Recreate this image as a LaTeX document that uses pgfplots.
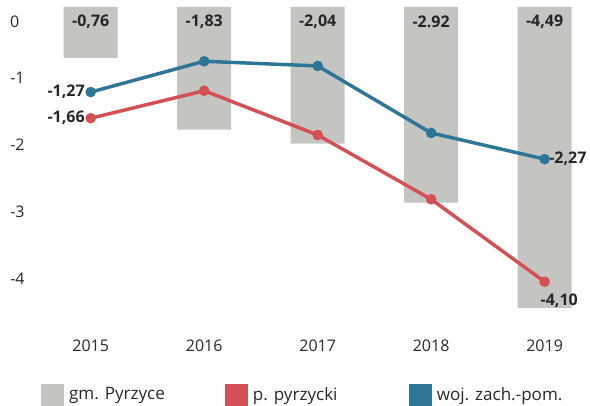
\documentclass[border=0pt]{standalone}
\usepackage{fontspec}
\setmainfont{Open Sans}
\usepackage{pgfplots}
\pgfplotsset{compat=1.18}
\definecolor{barg}{RGB}{196,196,193}
\definecolor{lred}{RGB}{210,80,86}
\definecolor{lblue}{RGB}{45,118,152}
\definecolor{txt}{RGB}{40,40,40}
\begin{document}
\begin{tikzpicture}
\useasboundingbox (-25.5pt,-60.75pt) rectangle (417pt,243.75pt);
\begin{axis}[
  scale only axis, width=417pt, height=243.75pt,
  xmin=-0.5, xmax=4.4, ymin=-4.746, ymax=0.1045,
  axis line style={draw=none}, tick style={draw=none},
  xtick={0,1,2,3,4}, xticklabels={2015,2016,2017,2018,2019},
  ytick={-4,-3,-2,-1}, yticklabels={-4,-3,-2,-1},
  ticklabel style={font=\fontsize{12}{14}\selectfont, text=txt},
  xticklabel style={yshift=-8pt},
  yticklabel style={xshift=-3.5pt, yshift=-3pt},
  clip=false,
  legend columns=3,
  legend style={draw=none, fill=none, inner sep=0pt, at={(0.0125,-0.215)}, anchor=west,
    font=\fontsize{12.8}{14}\selectfont, text=txt,
    /tikz/every odd column/.append style={column sep=2pt}},
  legend cell align=left,
]
\addplot[ybar, bar width=40.5pt, fill=barg, draw=none, forget plot] coordinates {(0,-0.76) (1,-1.83) (2,-2.04) (3,-2.92) (4,-4.49)};
\addplot[lred, line width=2.6pt, mark=*, mark size=2.6pt, forget plot] coordinates {(0,-1.66) (1,-1.25) (2,-1.91) (3,-2.87) (4,-4.10)};
\addplot[lblue, line width=2.6pt, mark=*, mark size=2.6pt, forget plot] coordinates {(0,-1.27) (1,-0.81) (2,-0.88) (3,-1.88) (4,-2.27)};
\addlegendimage{legend image code/.code={\fill[barg] (0pt,-8.25pt) rectangle (16.5pt,8.25pt);}}
\addlegendentry{\makebox[115pt][l]{gm. Pyrzyce}}
\addlegendimage{legend image code/.code={\fill[lred] (0pt,-8.25pt) rectangle (16.5pt,8.25pt);}}
\addlegendentry{\makebox[115pt][l]{p. pyrzycki}}
\addlegendimage{legend image code/.code={\fill[lblue] (0pt,-8.25pt) rectangle (16.5pt,8.25pt);}}
\addlegendentry{woj. zach.-pom.}
\node[anchor=east, font=\fontsize{12}{14}\selectfont, text=txt, xshift=-7.5pt] at (axis cs:-0.5,-0.224) {0};
\begin{scope}[every node/.style={font=\bfseries\fontsize{12}{14}\selectfont, text=black!85}]
\node at (axis cs:0,-0.224) {-0,76};
\node at (axis cs:1,-0.224) {-1,83};
\node at (axis cs:2,-0.224) {-2,04};
\node at (axis cs:3,-0.224) {-2.92};
\node at (axis cs:4,-0.224) {-4,49};
\node[anchor=east, xshift=-1pt] at (axis cs:0,-1.27) {-1,27};
\node[anchor=east, xshift=-1pt] at (axis cs:0,-1.66) {-1,66};
\node[anchor=west, xshift=0pt] at (axis cs:4,-2.27) {-2,27};
\node[xshift=11pt, yshift=-14pt] at (axis cs:4,-4.10) {-4,10};
\end{scope}
\end{axis}
\end{tikzpicture}
\end{document}
